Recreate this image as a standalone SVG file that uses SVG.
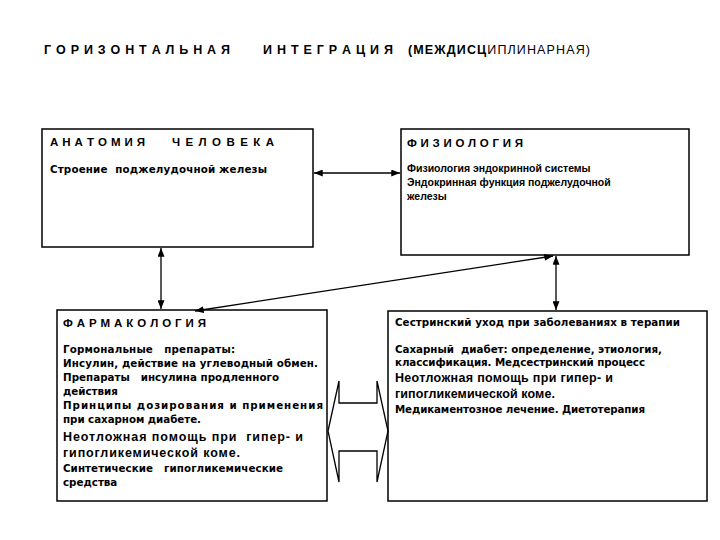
<svg xmlns="http://www.w3.org/2000/svg" width="720" height="540" viewBox="0 0 720 540">
<defs>
<style>
.box{fill:#fff;stroke:#000;stroke-width:1.5}
.t{font-family:"Liberation Sans",Arial,sans-serif;fill:#000;white-space:pre}
.title{font-size:12.5px;font-weight:bold}
.head{font-size:11.5px;font-weight:bold}
.body{font-family:"DejaVu Sans","Liberation Sans",sans-serif;font-size:10.3px;font-weight:bold}
.phys{font-size:10.5px;font-weight:bold}
.big{font-size:12.5px;font-weight:bold}
.con{stroke:#000;stroke-width:1.3;fill:none}
</style>
<marker id="ah" viewBox="0 0 10 8" refX="10" refY="4" markerWidth="9" markerHeight="7" markerUnits="userSpaceOnUse" orient="auto-start-reverse">
<path d="M0,0 L10,4 L0,8 Z" fill="#000"/>
</marker>
</defs>
<rect width="720" height="540" fill="#fff"/>

<g id="title">
<text class="t title" x="44" y="54" textLength="186" lengthAdjust="spacing">Г О Р И З О Н Т А Л Ь Н А Я</text>
<text class="t title" x="263" y="54" textLength="130" lengthAdjust="spacing">И Н Т Е Г Р А Ц И Я</text>
<text class="t" x="408" y="54" font-size="12.5" textLength="182" lengthAdjust="spacing"><tspan font-weight="bold">(МЕЖДИСЦ</tspan>ИПЛИНАРНАЯ)</text>
</g>

<g id="anatomy">
<rect class="box" x="42" y="129" width="271" height="118"/>
<text class="t head" x="50" y="146" textLength="95" lengthAdjust="spacing">А Н А Т О М И Я</text>
<text class="t head" x="172" y="146" textLength="102" lengthAdjust="spacing">Ч Е Л О В Е К А</text>
<text class="t body" x="50" y="173" textLength="217" lengthAdjust="spacing">Строение  поджелудочной железы</text>
</g>

<g id="physiology">
<rect class="box" x="401" y="129" width="288" height="126"/>
<text class="t head" x="407" y="147" textLength="116" lengthAdjust="spacing">Ф И З И О Л О Г И Я</text>
<text class="t phys" x="407" y="172">Физиология эндокринной системы</text>
<text class="t phys" x="407" y="186">Эндокринная функция поджелудочной</text>
<text class="t phys" x="407" y="200">железы</text>
</g>

<g id="pharmacology">
<rect class="box" x="57" y="310" width="270" height="191"/>
<text class="t head" x="63" y="327" textLength="143" lengthAdjust="spacing">Ф А Р М А К О Л О Г И Я</text>
<text class="t body" x="63" y="353" textLength="172" lengthAdjust="spacing">Гормональные   препараты:</text>
<text class="t body" x="63" y="367" textLength="255" lengthAdjust="spacing">Инсулин, действие на углеводный обмен.</text>
<text class="t body" x="63" y="381" textLength="216" lengthAdjust="spacing">Препараты   инсулина продленного</text>
<text class="t body" x="63" y="395">действия</text>
<text class="t body" x="63" y="409" textLength="260" lengthAdjust="spacing">Принципы дозирования и применения</text>
<text class="t body" x="63" y="423" textLength="138" lengthAdjust="spacing">при сахарном диабете.</text>
<text class="t big" x="63" y="441" textLength="240" lengthAdjust="spacing">Неотложная помощь при  гипер- и</text>
<text class="t big" x="63" y="457" textLength="177" lengthAdjust="spacing">гипогликемической коме.</text>
<text class="t body" x="63" y="472" textLength="220" lengthAdjust="spacing">Синтетические   гипогликемические</text>
<text class="t body" x="63" y="486">средства</text>
</g>

<g id="nursing">
<rect class="box" x="388" y="311" width="319" height="190"/>
<text class="t body" x="395" y="326" textLength="285" lengthAdjust="spacing">Сестринский уход при заболеваниях в терапии</text>
<text class="t body" x="395" y="353" textLength="267" lengthAdjust="spacing">Сахарный  диабет: определение, этиология,</text>
<text class="t body" x="395" y="366" textLength="250" lengthAdjust="spacing">классификация. Медсестринский процесс</text>
<text class="t big" x="395" y="382" textLength="218" lengthAdjust="spacing">Неотложная помощь при гипер- и</text>
<text class="t big" x="395" y="398" textLength="160" lengthAdjust="spacing">гипогликемической коме.</text>
<text class="t body" x="395" y="413" textLength="250" lengthAdjust="spacing">Медикаментозное лечение. Диетотерапия</text>
</g>

<g id="connectors">
<line class="con" x1="314" y1="173" x2="400" y2="173" marker-start="url(#ah)" marker-end="url(#ah)"/>
<line class="con" x1="161" y1="248" x2="161" y2="309" marker-start="url(#ah)" marker-end="url(#ah)"/>
<line class="con" x1="553" y1="256" x2="195" y2="311" marker-start="url(#ah)" marker-end="url(#ah)" stroke-width="1.6"/>
<line class="con" x1="556" y1="256" x2="556" y2="310" marker-start="url(#ah)" marker-end="url(#ah)" stroke-width="2"/>
<polygon class="con" stroke-width="1" points="328,431 339,381 339,403 377,403 377,381 388,431 377,482 377,451 339,451 339,482"/>
</g>
</svg>
